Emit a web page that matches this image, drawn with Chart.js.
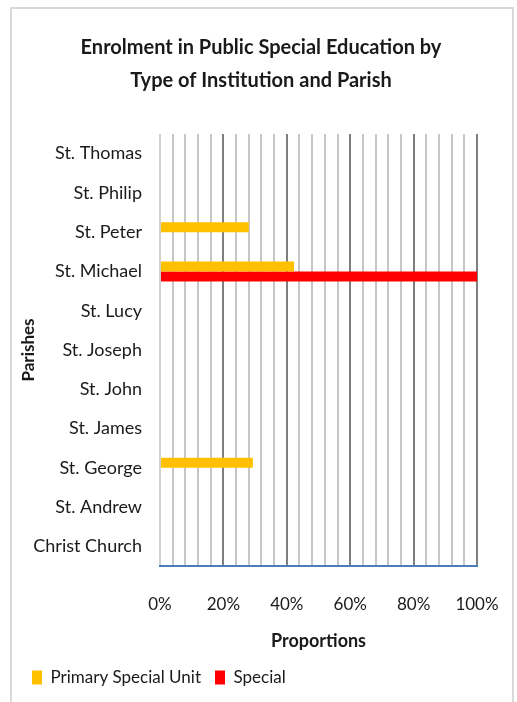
<!DOCTYPE html>
<html>
<head>
<meta charset="utf-8">
<script src="https://cdn.jsdelivr.net/npm/chart.js@4/dist/chart.umd.min.js"></script>
<style>
  body { margin: 0; background: #fff; }
  #wrap { position: relative; width: 517px; height: 702px; }
  #frame { position: absolute; left: 10px; top: 7px; width: 500px; height: 700px; border: 2px solid #d9d9d9; pointer-events: none; }
  canvas { position: absolute; left: 0; top: 0; }
</style>
</head>
<body>
<div id="wrap">
  <canvas id="chart" width="517" height="702"></canvas>
  <div id="frame"></div>
</div>
<script>
// parishes, listed bottom to top as in the source chart
const parishes = ['Christ Church', 'St. Andrew', 'St. George', 'St. James', 'St. John', 'St. Joseph',
  'St. Lucy', 'St. Michael', 'St. Peter', 'St. Philip', 'St. Thomas'];
const primarySpecialUnit = [0, 0, 0.293, 0, 0, 0, 0, 0.423, 0.28, 0, 0];
const special = [0, 0, 0, 0, 0, 0, 0, 1.0, 0, 0, 0];
const xTicks = [0, 0.2, 0.4, 0.6, 0.8, 1.0];

const FONT = "Lato, 'Open Sans', sans-serif";

new Chart(document.getElementById('chart'), {
  type: 'bar',
  data: {
    labels: parishes,
    datasets: [
      { label: 'Primary Special Unit', data: primarySpecialUnit, backgroundColor: '#ffc000', barThickness: 10, inflateAmount: 0 },
      { label: 'Special', data: special, backgroundColor: '#ff0000', barThickness: 10, inflateAmount: 0 }
    ]
  },
  options: {
    indexAxis: 'y',
    responsive: false,
    animation: false,
    layout: { padding: { left: 18, right: 13, top: 31, bottom: 6 } },
    scales: {
      x: {
        min: 0,
        max: 1,
        afterFit: (s) => { s.paddingLeft = 0; s.paddingRight = 40; },
        ticks: {
          stepSize: 0.04,
          autoSkip: false,
          maxRotation: 0,
          padding: 28,
          color: '#1a1a1a',
          font: { family: FONT, size: 17 },
          callback: (v) => {
            const r = Math.round(v * 100);
            return xTicks.some(t => Math.round(t * 100) === r) ? r + '%' : '';
          }
        },
        grid: {
          drawTicks: false,
          color: (ctx) => {
            const r = Math.round(ctx.tick.value * 100);
            if (r === 0) return '#d0d0d0';
            return r % 20 === 0 ? '#7f7f7f' : '#c6c6c6';
          },
          lineWidth: 2
        },
        border: { color: '#4a7ebb', width: 2 },
        title: { display: true, text: 'Proportions', color: '#1a1a1a', font: { family: FONT, size: 18, weight: 'bold' }, padding: { top: -12, bottom: 3 } }
      },
      y: {
        reverse: true,
        afterFit: (s) => { s.width = 142; },
        grid: { display: false, drawTicks: false },
        border: { display: false },
        ticks: { padding: 18, color: '#1a1a1a', font: { family: FONT, size: 18 } },
        title: { display: true, text: 'Parishes', color: '#1a1a1a', font: { family: FONT, size: 17, weight: 'bold' }, padding: { top: 0, bottom: 2 } }
      }
    },
    plugins: {
      title: {
        display: true,
        text: ['Enrolment in Public Special Education by', 'Type of Institution and Parish'],
        color: '#1a1a1a',
        font: { family: FONT, size: 20, weight: 'bold', lineHeight: 1.65 },
        padding: { top: 0, bottom: 37 }
      },
      legend: {
        position: 'bottom',
        align: 'start',
        labels: { boxWidth: 10, boxHeight: 14, padding: 14, color: '#1a1a1a', font: { family: FONT, size: 17 } }
      },
      tooltip: { enabled: false }
    }
  }
});
</script>
</body>
</html>
